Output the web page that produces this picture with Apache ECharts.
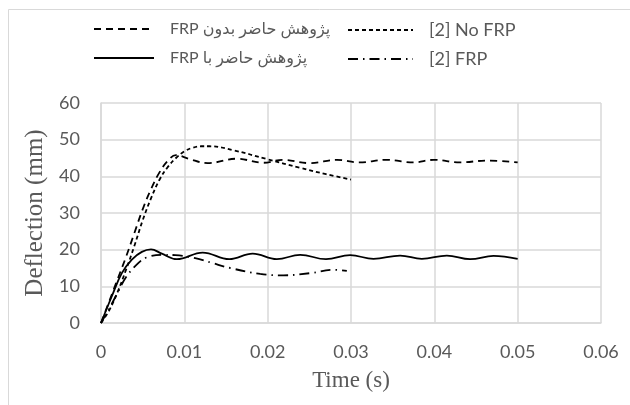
<!DOCTYPE html>
<html>
<head>
<meta charset="utf-8">
<script src="https://cdn.jsdelivr.net/npm/echarts@6/dist/echarts.min.js"></script>
<style>html,body{margin:0;padding:0;background:#fff}#c{width:630px;height:405px}</style>
</head>
<body>
<div id="c"></div>
<script>
// Series names (RTL Persian labels wrapped in RTL embedding)
var nameNoFrpPresent = '\u202Bپژوهش حاضر بدون FRP\u202C';
var nameNoFrpRef = '[2] No FRP';
var nameFrpPresent = '\u202Bپژوهش حاضر با FRP\u202C';
var nameFrpRef = '[2] FRP';

// [time (s), deflection (mm)]
var presentNoFRP = [[0,0],[0.0005,3],[0.001,6],[0.002,12],[0.003,18],[0.004,24.5],[0.005,31],[0.006,36.5],[0.007,41],[0.008,44.2],[0.009,45.8],[0.0105,44.8],[0.0128,43.6],[0.0163,44.8],[0.0195,43.7],[0.0218,44.5],[0.0251,43.6],[0.0283,44.5],[0.031,43.8],[0.0343,44.5],[0.0375,43.8],[0.0399,44.5],[0.0431,43.8],[0.0463,44.3],[0.05,43.8]];
var refNoFRP = [[0,0],[0.001,3.5],[0.002,8.5],[0.003,14.5],[0.004,21],[0.005,28],[0.006,34],[0.007,39],[0.008,42.5],[0.009,45],[0.01,46.8],[0.011,47.8],[0.012,48.2],[0.013,48.2],[0.0159,47.1],[0.0199,44.7],[0.0239,42.3],[0.027,40.6],[0.03,39.1]];
var presentFRP = [[0,0],[0.0013,7.3],[0.0025,13.6],[0.0037,17.3],[0.0049,19.4],[0.006,20.1],[0.0073,18.9],[0.0091,17.4],[0.0122,19.2],[0.0154,17.4],[0.0182,18.9],[0.0211,17.4],[0.0239,18.6],[0.027,17.4],[0.0299,18.5],[0.0327,17.5],[0.0359,18.4],[0.0385,17.5],[0.0415,18.4],[0.0443,17.4],[0.0471,18.3],[0.05,17.5]];
var refFRP = [[0,0],[0.001,4],[0.002,8.3],[0.003,12.5],[0.0045,16.4],[0.0055,17.9],[0.0073,18.6],[0.0089,18.5],[0.0113,17.7],[0.0133,16.4],[0.0155,15],[0.0191,13.4],[0.0219,13.0],[0.0251,13.6],[0.0279,14.5],[0.0295,14.2]];

var xTicks = { min: 0, max: 0.06, interval: 0.01 };
var yTicks = { min: 0, max: 60, interval: 10 };

var chart = echarts.init(document.getElementById('c'), null, { renderer: 'canvas' });
var sans = 'Lato, "DejaVu Sans", sans-serif';
var serif = '"Liberation Serif", "DejaVu Serif", serif';
var gridColor = '#d9d9d9';
var textColor = '#595959';

function leg(name, left, top, w, fs) {
  return {
    data: [name], left: left, top: top, padding: 0, itemWidth: w, itemHeight: 14,
    selectedMode: false,
    itemStyle: { opacity: 0, borderWidth: 0 },
    textStyle: { fontFamily: sans, fontSize: fs, color: textColor, padding: [0, 0, 0, 11] }
  };
}

chart.setOption({
  animation: false,
  backgroundColor: '#fff',
  graphic: [{
    type: 'rect', shape: { x: 8.5, y: 9.5, width: 700, height: 500 },
    style: { fill: 'none', stroke: gridColor, lineWidth: 1 }, silent: true, z: -10
  }],
  legend: [
    leg(nameNoFrpPresent, 93, 21, 60, 16),
    leg(nameNoFrpRef, 347, 21, 65, 18),
    leg(nameFrpPresent, 93, 50, 60, 16),
    leg(nameFrpRef, 347, 50, 65, 18)
  ],
  grid: { left: 101, right: 29, top: 103, bottom: 82, containLabel: false },
  xAxis: {
    type: 'value', min: xTicks.min, max: xTicks.max, interval: xTicks.interval,
    name: 'Time (s)', nameLocation: 'middle', nameGap: 46,
    nameTextStyle: { fontFamily: serif, fontSize: 23, color: textColor },
    axisLine: { show: true, lineStyle: { color: gridColor, width: 1.5 } },
    axisTick: { show: false },
    axisLabel: { fontFamily: sans, fontSize: 18, color: textColor, margin: 20 },
    splitLine: { show: true, lineStyle: { color: gridColor, width: 1.5 } }
  },
  yAxis: {
    type: 'value', min: yTicks.min, max: yTicks.max, interval: yTicks.interval,
    name: 'Deflection (mm)', nameLocation: 'middle', nameGap: 52,
    nameTextStyle: { fontFamily: serif, fontSize: 25, color: textColor },
    axisLine: { show: true, lineStyle: { color: gridColor, width: 1.5 } },
    axisTick: { show: false },
    axisLabel: { fontFamily: sans, fontSize: 18, color: textColor, margin: 21 },
    splitLine: { show: true, lineStyle: { color: gridColor, width: 1.5 } }
  },
  series: [
    { name: nameNoFrpPresent, type: 'line', data: presentNoFRP, smooth: 0.4, symbol: 'none',
      lineStyle: { color: '#000', width: 1.8, type: [7, 5] }, itemStyle: { color: '#000' } },
    { name: nameNoFrpRef, type: 'line', data: refNoFRP, smooth: 0.4, symbol: 'none',
      lineStyle: { color: '#000', width: 1.8, type: [4, 3] }, itemStyle: { color: '#000' } },
    { name: nameFrpPresent, type: 'line', data: presentFRP, smooth: 0.4, symbol: 'none',
      lineStyle: { color: '#000', width: 1.8, type: 'solid' }, itemStyle: { color: '#000' } },
    { name: nameFrpRef, type: 'line', data: refFRP, smooth: 0.4, symbol: 'none',
      lineStyle: { color: '#000', width: 1.8, type: [10, 5, 1.5, 5] }, itemStyle: { color: '#000' } }
  ]
});
</script>
</body>
</html>
